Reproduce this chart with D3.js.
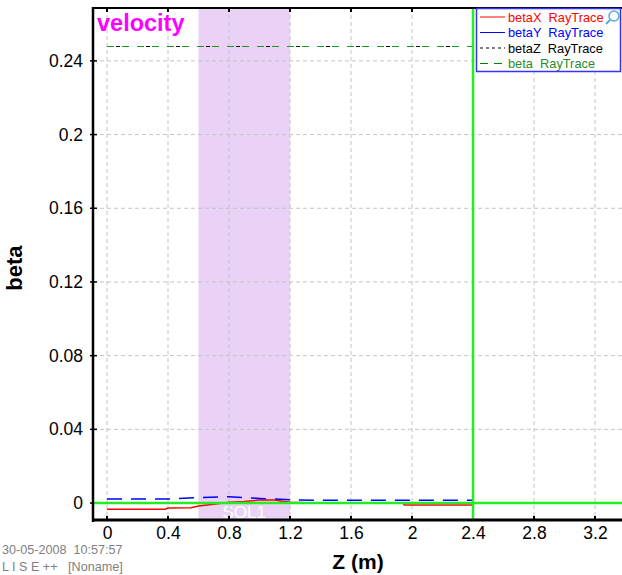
<!DOCTYPE html>
<html><head><meta charset="utf-8">
<script src="https://cdn.jsdelivr.net/npm/d3@7"></script>
<style>body{margin:0;background:#fff;}svg{display:block;font-family:"Liberation Sans",Arial,sans-serif;}</style>
</head><body>
<svg id="c" width="622" height="575"></svg>
<script>
const xTicks = [0, 0.4, 0.8, 1.2, 1.6, 2, 2.4, 2.8, 3.2];
const yTicks = [0, 0.04, 0.08, 0.12, 0.16, 0.2, 0.24];
const betaX = [[0,-0.0033],[0.38,-0.0033],[0.4,-0.0027],[0.55,-0.0026],[0.6,-0.0016],[0.7,-0.0006],[0.8,0.0004],[0.9,0.0009],[1.0,0.0016],[1.1,0.0016],[1.15,0.001],[1.2,0.0005],[1.3,0.0001],[1.5,-0.0001],[1.94,-0.0001],[1.95,-0.0010],[2.4,-0.0010]];
const betaY = [[0,0.0022],[0.4,0.0022],[0.5,0.0026],[0.6,0.0030],[0.8,0.0034],[0.9,0.0030],[1.0,0.0025],[1.2,0.0018],[1.4,0.0015],[2.4,0.0015]];
const betaZ = [[0,0.2478],[2.4,0.2478]];
const beta = [[0,0.2478],[2.4,0.2478]];
const solBand = [0.6, 1.2];
const markerZ = 2.4;
const legendItems = ["betaX  RayTrace","betaY  RayTrace","betaZ  RayTrace","beta  RayTrace"];

const svg = d3.select("#c");
const L = 93, T = 8, W = 529, H = 512;
const x = d3.scaleLinear().domain([-0.0918, 3.377]).range([L, L + W]);
const y = d3.scaleLinear().domain([-0.0092, 0.2687]).range([T + H, T]);
const FF = '"Liberation Sans",Arial,sans-serif';

// SOL band
svg.append("rect").attr("x", x(solBand[0])).attr("y", T).attr("width", x(solBand[1]) - x(solBand[0])).attr("height", H).attr("fill", "#e9d2f5");
svg.append("text").attr("x", (x(solBand[0]) + x(solBand[1])) / 2).attr("y", T + H - 2).attr("text-anchor", "middle").attr("font-size", 17).attr("fill", "#ffffff").text("SOL1");

// grid
const g = svg.append("g");
xTicks.forEach(t => g.append("line").attr("x1", x(t)).attr("x2", x(t)).attr("y1", T).attr("y2", T + H).attr("stroke", "#c4c4c4").attr("stroke-dasharray", "4,3"));
yTicks.forEach(t => g.append("line").attr("x1", L).attr("x2", L + W).attr("y1", y(t)).attr("y2", y(t)).attr("stroke", "#c4c4c4").attr("stroke-dasharray", "4,3"));

// axes
const xAxis = d3.axisBottom(x).tickValues(xTicks).tickSize(0).tickPadding(7).tickFormat(d3.format("~g"));
const ax = svg.append("g").attr("transform", `translate(0,${T + H})`).call(xAxis);
ax.select(".domain").remove();
ax.selectAll("text").attr("font-size", 17.5).attr("fill", "#000").attr("font-family", FF);
const yAxis = d3.axisLeft(y).tickValues(yTicks).tickSize(0).tickPadding(10).tickFormat(d3.format("~g"));
const ay = svg.append("g").attr("transform", `translate(${L},0)`).call(yAxis);
ay.select(".domain").remove();
ay.selectAll("text").attr("font-size", 17.5).attr("fill", "#000").attr("font-family", FF);

// small tick marks
xTicks.forEach(t => {
  svg.append("line").attr("x1", x(t)).attr("x2", x(t)).attr("y1", T).attr("y2", T + 4).attr("stroke", "#000").attr("stroke-width", 2);
  svg.append("line").attr("x1", x(t)).attr("x2", x(t)).attr("y1", T + H - 4).attr("y2", T + H).attr("stroke", "#000").attr("stroke-width", 2);
});
yTicks.forEach(t => svg.append("line").attr("x1", L - 3).attr("x2", L + 4).attr("y1", y(t)).attr("y2", y(t)).attr("stroke", "#000").attr("stroke-width", 1.5));

// data lines
const line = d3.line().x(d => x(d[0])).y(d => y(d[1]));
svg.append("path").datum(beta).attr("d", line).attr("fill", "none").attr("stroke", "#1a9a1a").attr("stroke-width", 1.2).attr("stroke-dasharray", "7,8");
svg.append("path").datum(betaZ).attr("d", line).attr("fill", "none").attr("stroke", "#000").attr("stroke-width", 1.2).attr("stroke-dasharray", "4,26").attr("stroke-dashoffset", -9);
svg.append("path").datum(betaX).attr("d", line).attr("fill", "none").attr("stroke", "#ff0000").attr("stroke-width", 1.5);
// zero marker line
svg.append("line").attr("x1", L).attr("x2", L + W).attr("y1", y(0)).attr("y2", y(0)).attr("stroke", "#22ee22").attr("stroke-width", 2.5);
svg.append("path").datum(betaY).attr("d", line).attr("fill", "none").attr("stroke", "#0000ff").attr("stroke-width", 1.5).attr("stroke-dasharray", "15,9");
// vertical marker
svg.append("line").attr("x1", x(markerZ)).attr("x2", x(markerZ)).attr("y1", T).attr("y2", T + H).attr("stroke", "#22ee22").attr("stroke-width", 2.5);

// frame
svg.append("line").attr("x1", L).attr("x2", 622).attr("y1", T).attr("y2", T).attr("stroke", "#000").attr("stroke-width", 2);
svg.append("line").attr("x1", L).attr("x2", L).attr("y1", T - 1).attr("y2", T + H + 2).attr("stroke", "#000").attr("stroke-width", 2.5);
svg.append("line").attr("x1", L - 1).attr("x2", 622).attr("y1", T + H).attr("y2", T + H).attr("stroke", "#000").attr("stroke-width", 3);

// title
svg.append("text").attr("x", 97).attr("y", 31).attr("font-size", 23.5).attr("font-weight", "bold").attr("fill", "#ff00ff").text("velocity");

// axis titles
svg.append("text").attr("x", 358).attr("y", 569).attr("text-anchor", "middle").attr("font-size", 21).attr("font-weight", "bold").text("Z (m)");
svg.append("text").attr("transform", "translate(22,268) rotate(-90)").attr("text-anchor", "middle").attr("font-size", 22).attr("font-weight", "bold").text("beta");

// footnotes
svg.append("text").attr("x", 2).attr("y", 554).attr("font-size", 12.6).attr("fill", "#808080").style("white-space", "pre").text("30-05-2008  10:57:57");
svg.append("text").attr("x", 2).attr("y", 571).attr("font-size", 12.6).attr("fill", "#808080").style("white-space", "pre").text("L I S E ++   [Noname]");

// legend
const lg = svg.append("g");
lg.append("rect").attr("x", 476.5).attr("y", 8.5).attr("width", 144).attr("height", 63).attr("fill", "#fff").attr("stroke", "#3333ff").attr("stroke-width", 1.5);
const lcol = ["#ff0000", "#0000ff", "#000000", "#008000"];
const ldash = [null, null, "3,3", "8,6"];
legendItems.forEach((t, i) => {
  const yy = 17 + i * 15.5;
  const l = lg.append("line").attr("x1", 480).attr("x2", 505).attr("y1", yy).attr("y2", yy).attr("stroke", lcol[i]).attr("stroke-width", 1);
  if (ldash[i]) l.attr("stroke-dasharray", ldash[i]);
  lg.append("text").attr("x", 508).attr("y", yy + 4.5).attr("font-size", 12.8).attr("fill", lcol[i] === "#008000" ? "#2a8a2a" : lcol[i]).style("white-space", "pre").text(t);
});
// magnifier icon
lg.append("circle").attr("cx", 614).attr("cy", 16).attr("r", 5).attr("fill", "#fff").attr("stroke", "#55aadd").attr("stroke-width", 1.5);
lg.append("line").attr("x1", 610).attr("x2", 606).attr("y1", 20).attr("y2", 24).attr("stroke", "#55aadd").attr("stroke-width", 2);
</script>
</body></html>
